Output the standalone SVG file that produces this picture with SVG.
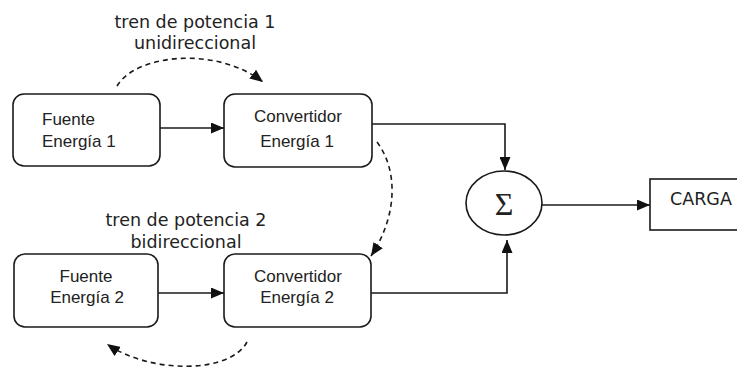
<svg xmlns="http://www.w3.org/2000/svg" width="737" height="369" viewBox="0 0 737 369">
<style>
.box{fill:#fff;stroke:#1a1a1a;stroke-width:1.6}
.ln{fill:none;stroke:#1a1a1a;stroke-width:1.6}
.dash{fill:none;stroke:#1a1a1a;stroke-width:1.6;stroke-dasharray:5 4}
.lbl{font-family:"Liberation Sans",Arial,sans-serif;font-size:17px;fill:#222}
.hum{font-family:"DejaVu Sans",Verdana,sans-serif;font-size:17.5px;fill:#222}
.sig{font-family:"Liberation Serif","Times New Roman",serif;font-size:32px;fill:#222}
</style>
<defs>
<marker id="ah" markerWidth="13" markerHeight="11" refX="13" refY="5.5" orient="auto" markerUnits="userSpaceOnUse">
<path d="M0,0 L13,5.5 L0,11 Z" fill="#111"/>
</marker>
</defs>
<rect width="737" height="369" fill="#fff"/>
<text class="hum" x="195" y="28" text-anchor="middle">tren de potencia 1</text>
<text class="hum" x="195" y="49" text-anchor="middle">unidireccional</text>
<text class="hum" x="186" y="226" text-anchor="middle">tren de potencia 2</text>
<text class="hum" x="186" y="248" text-anchor="middle">bidireccional</text>
<g id="fuente1">
<rect class="box" x="13" y="94" width="147" height="72" rx="11"/>
<text class="lbl" x="42" y="125">Fuente</text>
<text class="lbl" x="42" y="147">Energía 1</text>
</g>
<g id="conv1">
<rect class="box" x="224" y="94" width="148" height="73" rx="11"/>
<text class="lbl" x="298" y="122" text-anchor="middle">Convertidor</text>
<text class="lbl" x="297" y="147" text-anchor="middle">Energía 1</text>
</g>
<g id="fuente2">
<rect class="box" x="14" y="254" width="144" height="73" rx="11"/>
<text class="lbl" x="86" y="282" text-anchor="middle">Fuente</text>
<text class="lbl" x="87" y="303" text-anchor="middle">Energía 2</text>
</g>
<g id="conv2">
<rect class="box" x="224" y="254" width="147" height="73" rx="11"/>
<text class="lbl" x="298" y="282" text-anchor="middle">Convertidor</text>
<text class="lbl" x="297" y="303" text-anchor="middle">Energía 2</text>
</g>
<g id="suma">
<ellipse class="box" cx="504" cy="203" rx="38" ry="32"/>
<text class="sig" x="504" y="215" text-anchor="middle">Σ</text>
</g>
<g id="carga">
<rect class="box" x="650" y="179" width="95" height="51"/>
<text class="hum" x="670" y="205">CARGA</text>
</g>
<g id="connectors">
<line class="ln" x1="160" y1="128" x2="224" y2="128" marker-end="url(#ah)"/>
<line class="ln" x1="158" y1="293" x2="224" y2="293" marker-end="url(#ah)"/>
<polyline class="ln" points="372,124 505,124 505,170" marker-end="url(#ah)"/>
<polyline class="ln" points="371,293 507,293 507,240" marker-end="url(#ah)"/>
<line class="ln" x1="542" y1="205" x2="650" y2="205" marker-end="url(#ah)"/>
<path class="dash" d="M117,86 C135,55 215,45 263,82" marker-end="url(#ah)"/>
<path class="dash" d="M377,142 C398,170 398,215 371,256" marker-end="url(#ah)"/>
<path class="dash" d="M247,342 C230,374 150,374 107,344" marker-end="url(#ah)"/>
</g>
</svg>
